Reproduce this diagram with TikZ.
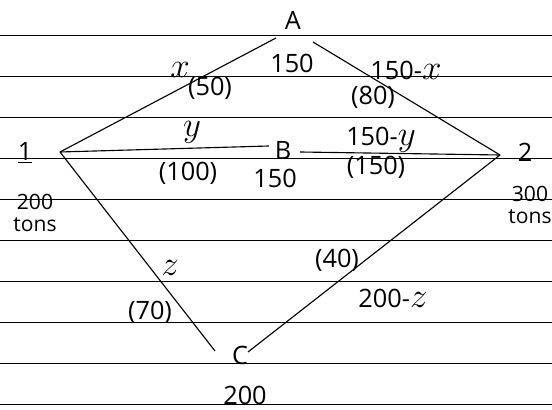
\documentclass[tikz,border=0pt]{standalone}
\usepackage{fontspec}
\setmainfont{Open Sans}
\newcommand{\hv}[1]{{\fontsize{25}{25}\selectfont$#1$}}
\begin{document}
\begin{tikzpicture}[every node/.style={font=\fontsize{18}{20}\selectfont, inner sep=1pt},
  small/.style={font=\fontsize{15}{15}\selectfont, align=center},
  rule/.style={line width=0.7pt}, edge/.style={line width=0.8pt}]
  \useasboundingbox (0,0) rectangle (13.8,10.25);
  \foreach \i in {0,...,9}
    \draw[rule] (0,{9.375-1.025*\i}) -- (13.8,{9.375-1.025*\i});
  \coordinate (1) at (1.5,6.45);
  \coordinate (2) at (12.5,6.375);
  \node (A) at (7.325,9.75) {A};
  \node (B) at (7.075,6.5) {B};
  \node (C) at (6.0,1.375) {C};
  \node (l1) at (0.625,6.425) {\underline{1}};
  \node (l2) at (13.125,6.45) {2};
  \node[small] (s1) at (0.875,4.925) {200\\tons};
  \node[small] (s2) at (13.25,5.125) {300\\tons};
  \node (dA) at (7.3,8.675) {150};
  \node (dB) at (6.875,5.8) {150};
  \node (dC) at (6.125,0.375) {200};
  \node (x) at (4.5,8.5) {\hv{x}};
  \node (fx) at (5.25,8.05) {(50)};
  \node (y) at (4.8,6.95) {\hv{y}};
  \node (fy) at (4.7,5.925) {(100)};
  \node (z) at (4.25,3.55) {\hv{z}};
  \node (fz) at (3.75,2.45) {(70)};
  \node (x2) at (10.15,8.5) {150-\hv{x}};
  \node (fx2) at (9.325,7.825) {(80)};
  \node (y2) at (9.525,6.75) {150-\hv{y}};
  \node (fy2) at (9.4,6.075) {(150)};
  \node (z2) at (9.825,2.8) {200-\hv{z}};
  \node (fz2) at (8.425,3.75) {(40)};
  \draw[edge] (1) -- ([shift={(-0.425,-0.45)}]A.center);
  \draw[edge] ([shift={(0.5,-0.55)}]A.center) -- (2);
  \draw[edge] (1) -- ([shift={(-0.35,0.1)}]B.center);
  \draw[edge] ([shift={(0.425,-0.05)}]B.center) -- (2);
  \draw[edge] (1) -- ([shift={(-0.625,0.1)}]C.center);
  \draw[edge] ([shift={(0.2,0.075)}]C.center) -- (2);
\end{tikzpicture}
\end{document}
